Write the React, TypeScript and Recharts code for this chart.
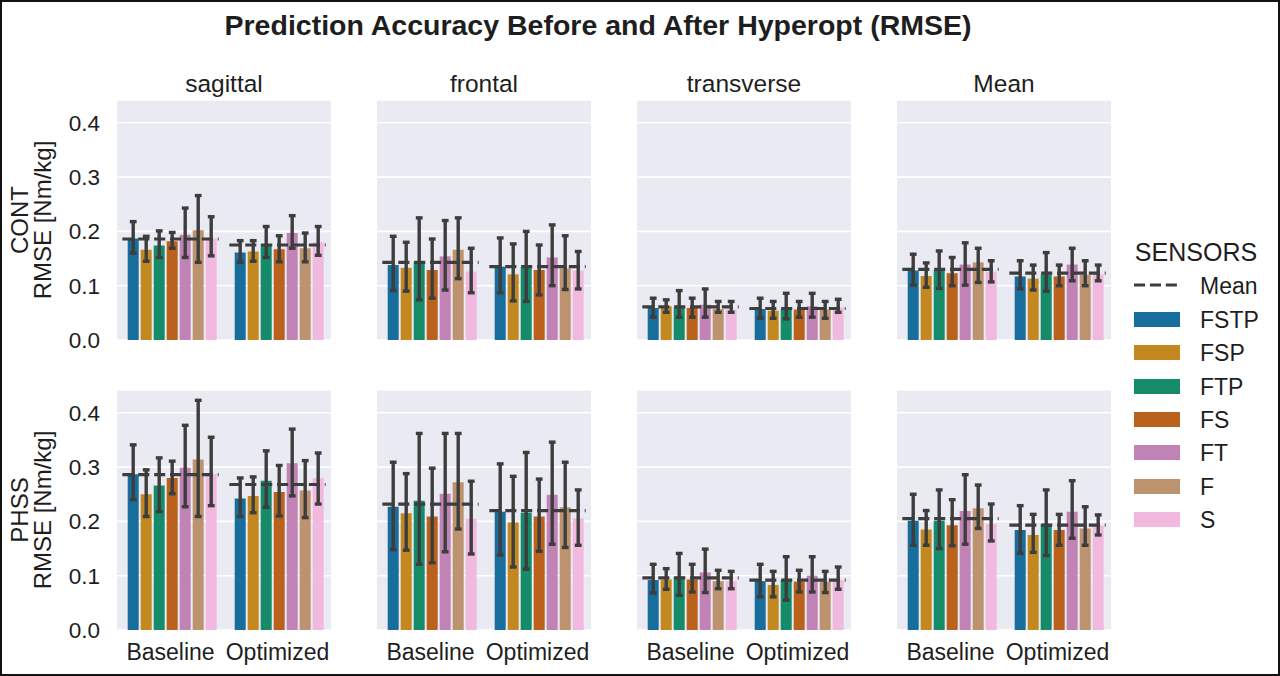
import React from "react";
import { BarChart, Bar, XAxis, YAxis, CartesianGrid, ErrorBar, ReferenceLine } from "recharts";

const sensors = ["FSTP", "FSP", "FTP", "FS", "FT", "F", "S"];
const conditions = ["Baseline", "Optimized"];
const planes = ["sagittal", "frontal", "transverse", "Mean"];
const tasks = ["CONT", "PHSS"];
const yTicks = [0, 0.1, 0.2, 0.3, 0.4];
const colors = ["#176d9c", "#c38820", "#158b6a", "#ba611b", "#c183b6", "#bd926e", "#f1b9e0"];

// CONT — [Baseline, Optimized] per sensor
const contSagittal = [[0.187, 0.166, 0.174, 0.182, 0.194, 0.202, 0.187], [0.161, 0.163, 0.177, 0.167, 0.197, 0.169, 0.18]];
const contSagittalLo = [[0.16, 0.145, 0.152, 0.169, 0.152, 0.143, 0.155], [0.143, 0.145, 0.152, 0.144, 0.169, 0.144, 0.156]];
const contSagittalHi = [[0.218, 0.191, 0.201, 0.198, 0.243, 0.266, 0.227], [0.183, 0.183, 0.209, 0.192, 0.229, 0.197, 0.209]];

const contFrontal = [[0.138, 0.133, 0.144, 0.129, 0.154, 0.166, 0.126], [0.135, 0.121, 0.134, 0.129, 0.152, 0.132, 0.128]];
const contFrontalLo = [[0.091, 0.09, 0.074, 0.077, 0.092, 0.113, 0.087], [0.087, 0.072, 0.071, 0.083, 0.1, 0.093, 0.094]];
const contFrontalHi = [[0.191, 0.18, 0.225, 0.186, 0.22, 0.225, 0.169], [0.188, 0.177, 0.2, 0.175, 0.212, 0.192, 0.163]];

const contTransverse = [[0.059, 0.062, 0.06, 0.059, 0.065, 0.057, 0.056], [0.057, 0.054, 0.057, 0.056, 0.062, 0.056, 0.06]];
const contTransverseLo = [[0.042, 0.051, 0.042, 0.042, 0.042, 0.051, 0.051], [0.04, 0.04, 0.039, 0.042, 0.042, 0.04, 0.051]];
const contTransverseHi = [[0.077, 0.074, 0.091, 0.077, 0.094, 0.071, 0.071], [0.077, 0.071, 0.086, 0.071, 0.086, 0.071, 0.075]];

const contMean = [[0.128, 0.118, 0.128, 0.123, 0.139, 0.143, 0.126], [0.117, 0.113, 0.121, 0.117, 0.139, 0.12, 0.121]];
const contMeanLo = [[0.101, 0.097, 0.095, 0.1, 0.101, 0.106, 0.107], [0.094, 0.092, 0.09, 0.1, 0.109, 0.1, 0.109]];
const contMeanHi = [[0.158, 0.142, 0.164, 0.152, 0.179, 0.169, 0.146], [0.146, 0.138, 0.161, 0.138, 0.169, 0.146, 0.138]];

// PHSS
const phssSagittal = [[0.287, 0.25, 0.266, 0.28, 0.299, 0.314, 0.287], [0.242, 0.247, 0.275, 0.254, 0.307, 0.257, 0.28]];
const phssSagittalLo = [[0.24, 0.209, 0.218, 0.251, 0.227, 0.209, 0.229], [0.209, 0.216, 0.226, 0.21, 0.247, 0.207, 0.232]];
const phssSagittalHi = [[0.341, 0.295, 0.317, 0.311, 0.377, 0.423, 0.355], [0.28, 0.282, 0.33, 0.303, 0.37, 0.312, 0.326]];

const phssFrontal = [[0.227, 0.215, 0.238, 0.209, 0.251, 0.272, 0.205], [0.218, 0.198, 0.216, 0.209, 0.249, 0.226, 0.206]];
const phssFrontalLo = [[0.148, 0.147, 0.121, 0.124, 0.144, 0.186, 0.14], [0.138, 0.116, 0.112, 0.145, 0.158, 0.152, 0.156]];
const phssFrontalHi = [[0.309, 0.288, 0.362, 0.298, 0.362, 0.362, 0.274], [0.306, 0.283, 0.327, 0.278, 0.346, 0.309, 0.258]];

const phssTransverse = [[0.092, 0.093, 0.098, 0.093, 0.106, 0.09, 0.09], [0.09, 0.083, 0.092, 0.089, 0.1, 0.089, 0.092]];
const phssTransverseLo = [[0.068, 0.075, 0.064, 0.07, 0.069, 0.076, 0.076], [0.061, 0.061, 0.055, 0.07, 0.07, 0.069, 0.075]];
const phssTransverseHi = [[0.121, 0.113, 0.141, 0.121, 0.149, 0.11, 0.108], [0.121, 0.108, 0.135, 0.11, 0.135, 0.108, 0.116]];

const phssMean = [[0.201, 0.185, 0.201, 0.193, 0.219, 0.224, 0.195], [0.184, 0.175, 0.195, 0.184, 0.218, 0.187, 0.192]];
const phssMeanLo = [[0.156, 0.156, 0.15, 0.155, 0.158, 0.187, 0.164], [0.141, 0.143, 0.137, 0.156, 0.169, 0.156, 0.175]];
const phssMeanHi = [[0.25, 0.22, 0.258, 0.24, 0.286, 0.267, 0.232], [0.229, 0.213, 0.258, 0.213, 0.275, 0.227, 0.212]];

// dashed "Mean" line per facet: [Baseline, Optimized]
const contMeanLines = [[0.186, 0.175], [0.143, 0.135], [0.061, 0.058], [0.13, 0.123]];
const phssMeanLines = [[0.286, 0.268], [0.232, 0.22], [0.096, 0.092], [0.205, 0.193]];

const facets = [
  [
    [contSagittal, contSagittalLo, contSagittalHi],
    [contFrontal, contFrontalLo, contFrontalHi],
    [contTransverse, contTransverseLo, contTransverseHi],
    [contMean, contMeanLo, contMeanHi],
  ],
  [
    [phssSagittal, phssSagittalLo, phssSagittalHi],
    [phssFrontal, phssFrontalLo, phssFrontalHi],
    [phssTransverse, phssTransverseLo, phssTransverseHi],
    [phssMean, phssMeanLo, phssMeanHi],
  ],
];
const meanLines = [contMeanLines, phssMeanLines];

const PLOT_LEFT = [117, 377, 637, 897];
const PLOT_TOP = [100, 390];
const PLOT_W = 214;
const PLOT_H = 240;
const Y_MAX = 0.442;
const FONT = '"Liberation Sans", Arial, Helvetica, sans-serif';
const INK = "#1e1e1e";
const ERR = "#3d3d3d";

function Facet({ row, col }: { row: number; col: number }) {
  const [rmse, lo, hi] = facets[row][col];
  const data = conditions.map((c, g) => {
    const d: Record<string, any> = { condition: c };
    sensors.forEach((s, i) => {
      d[s] = rmse[g][i];
      d[s + "_err"] = [rmse[g][i] - lo[g][i], hi[g][i] - rmse[g][i]];
    });
    return d;
  });
  const showY = col === 0;
  const showX = row === 1;
  const yW = showY ? 60 : 0;
  const xH = showX ? 40 : 0;
  const padB = showX ? 0 : 14;

  return (
    <div style={{ position: "absolute", left: PLOT_LEFT[col] - yW, top: PLOT_TOP[row] }}>
      <BarChart
        width={PLOT_W + yW}
        height={PLOT_H + xH + padB}
        data={data}
        margin={{ top: 0, right: 0, bottom: padB, left: 0 }}
        barCategoryGap="10%"
        barGap={2}
      >
        <CartesianGrid vertical={false} stroke="#fff" strokeWidth={1.6} fill="#eaeaf2" fillOpacity={1} />
        <XAxis
          dataKey="condition"
          hide={!showX}
          height={xH}
          tickLine={false}
          axisLine={false}
          tickSize={6}
          tickMargin={8}
          interval={0}
          tick={{ fontSize: 23, fill: INK, fontFamily: FONT }}
        />
        <YAxis
          type="number"
          domain={[0, Y_MAX]}
          ticks={yTicks}
          interval={0}
          hide={!showY}
          width={yW}
          tickLine={false}
          axisLine={false}
          tickSize={6}
          tickMargin={11}
          tickFormatter={(v: number) => v.toFixed(1)}
          tick={{ fontSize: 22.5, fill: INK, fontFamily: FONT }}
        />
        {sensors.map((s, i) => (
          <Bar key={s} dataKey={s} fill={colors[i]} isAnimationActive={false}>
            <ErrorBar dataKey={s + "_err"} width={3.4} stroke={ERR} strokeWidth={3.4} />
          </Bar>
        ))}
        {meanLines[row][col].map((m, g) => (
          <ReferenceLine
            key={g}
            y={m}
            shape={(p: any) => {
              const left = Math.min(p.x1, p.x2);
              const band = Math.abs(p.x2 - p.x1) / 2;
              const cx = left + (g + 0.5) * band;
              return (
                <line
                  x1={cx - 0.45 * band}
                  x2={cx + 0.45 * band}
                  y1={p.y1}
                  y2={p.y1}
                  stroke={ERR}
                  strokeWidth={3.2}
                  strokeDasharray="11.1 4.8"
                />
              );
            }}
          />
        ))}
      </BarChart>
    </div>
  );
}

const centered: React.CSSProperties = {
  position: "absolute",
  transform: "translate(-50%, -50%)",
  whiteSpace: "nowrap",
  lineHeight: 1,
  color: INK,
};

export default function App() {
  return (
    <div
      style={{
        position: "absolute",
        left: 0,
        top: 0,
        width: 1280,
        height: 676,
        background: "#fff",
        fontFamily: FONT,
        overflow: "hidden",
      }}
    >
      <div style={{ ...centered, left: 598, top: 25, fontSize: 28.5, fontWeight: 700 }}>
        Prediction Accuracy Before and After Hyperopt (RMSE)
      </div>

      {planes.map((p, c) => (
        <div key={p} style={{ ...centered, left: PLOT_LEFT[c] + PLOT_W / 2, top: 84, fontSize: 24.5 }}>
          {p}
        </div>
      ))}

      {tasks.map((t, r) => (
        <React.Fragment key={t}>
          <div
            style={{
              ...centered,
              left: 20,
              top: PLOT_TOP[r] + PLOT_H / 2,
              fontSize: 24,
              transform: "translate(-50%, -50%) rotate(-90deg)",
            }}
          >
            {t}
          </div>
          <div
            style={{
              ...centered,
              left: 43,
              top: PLOT_TOP[r] + PLOT_H / 2,
              fontSize: 24,
              transform: "translate(-50%, -50%) rotate(-90deg)",
            }}
          >
            RMSE [Nm/kg]
          </div>
        </React.Fragment>
      ))}

      {tasks.map((t, r) => planes.map((p, c) => <Facet key={t + p} row={r} col={c} />))}

      {/* legend */}
      <div style={{ ...centered, left: 1196, top: 252, fontSize: 25 }}>SENSORS</div>
      <svg style={{ position: "absolute", left: 1134, top: 278 }} width={46} height={14}>
        <line x1={0} x2={46} y1={7} y2={7} stroke={ERR} strokeWidth={3.2} strokeDasharray="11.1 4.8" />
      </svg>
      <div style={{ ...centered, transform: "translate(0, -50%)", left: 1200, top: 286, fontSize: 23 }}>Mean</div>
      {sensors.map((s, i) => (
        <React.Fragment key={s}>
          <div
            style={{
              position: "absolute",
              left: 1134,
              top: 312 + i * 33.3,
              width: 46,
              height: 15,
              background: colors[i],
            }}
          />
          <div style={{ ...centered, transform: "translate(0, -50%)", left: 1200, top: 320 + i * 33.3, fontSize: 23 }}>
            {s}
          </div>
        </React.Fragment>
      ))}

      <div
        style={{
          position: "absolute",
          left: 0,
          top: 0,
          width: 1280,
          height: 676,
          boxSizing: "border-box",
          border: "2px solid #111",
          pointerEvents: "none",
        }}
      />
    </div>
  );
}
